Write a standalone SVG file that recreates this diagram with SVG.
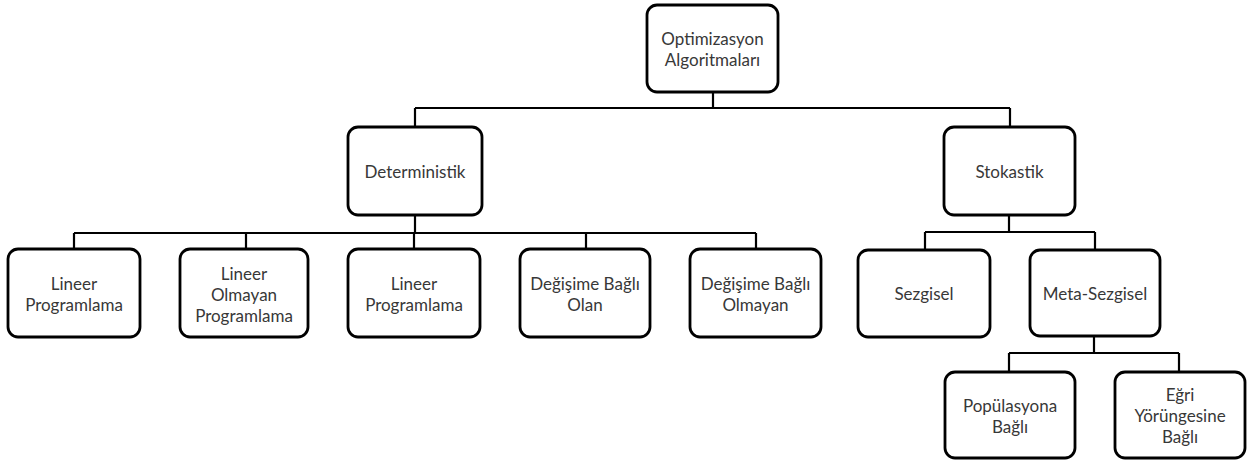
<svg xmlns="http://www.w3.org/2000/svg" width="1257" height="461" viewBox="0 0 1257 461">
<style>
.box{fill:#fff;stroke:#000;stroke-width:2.8}
.ln{fill:none;stroke:#000;stroke-width:2.2}
text{font-family:Lato,"Open Sans","Liberation Sans",sans-serif;font-size:17px;fill:#383838;text-anchor:middle;dominant-baseline:central}
</style>
<rect width="1257" height="461" fill="#fff"/>
<g id="connectors">
<path class="ln" d="M713 92V108M415 108H1010M415 108V127M1010 108V127"/>
<path class="ln" d="M415 215V233M74 233H756M74 233V249M246 233V249M414 233V249M586 233V249M756 233V249"/>
<path class="ln" d="M1009 215V232M925 232H1095M925 232V250M1095 232V250"/>
<path class="ln" d="M1094 336V353M1009 353H1179M1009 353V372M1179 353V372"/>
</g>
<g id="n-root"><rect class="box" x="647" y="5" width="131" height="87" rx="10"/><text x="712.5" y="38">Optimizasyon</text><text x="712.5" y="59">Algoritmaları</text></g>
<g id="n-det"><rect class="box" x="348" y="127" width="134" height="88" rx="10"/><text x="415" y="171">Deterministik</text></g>
<g id="n-sto"><rect class="box" x="944" y="127" width="131" height="88" rx="10"/><text x="1009.5" y="171">Stokastik</text></g>
<g id="n-lp1"><rect class="box" x="8" y="249" width="132" height="88" rx="10"/><text x="74" y="283">Lineer</text><text x="74" y="304">Programlama</text></g>
<g id="n-nlp"><rect class="box" x="180" y="249" width="128" height="88" rx="10"/><text x="244" y="273">Lineer</text><text x="244" y="294">Olmayan</text><text x="244" y="315">Programlama</text></g>
<g id="n-lp2"><rect class="box" x="348" y="249" width="132" height="88" rx="10"/><text x="414" y="283">Lineer</text><text x="414" y="304">Programlama</text></g>
<g id="n-dbo"><rect class="box" x="520" y="249" width="130" height="88" rx="10"/><text x="585" y="283">Değişime Bağlı</text><text x="585" y="304">Olan</text></g>
<g id="n-dbom"><rect class="box" x="690" y="249" width="131" height="88" rx="10"/><text x="755.5" y="283">Değişime Bağlı</text><text x="755.5" y="304">Olmayan</text></g>
<g id="n-sez"><rect class="box" x="858" y="250" width="132" height="87" rx="10"/><text x="924" y="293">Sezgisel</text></g>
<g id="n-meta"><rect class="box" x="1030" y="250" width="130" height="86" rx="10"/><text x="1095" y="293">Meta-Sezgisel</text></g>
<g id="n-pop"><rect class="box" x="945" y="372" width="130" height="86" rx="10"/><text x="1010" y="405">Popülasyona</text><text x="1010" y="426">Bağlı</text></g>
<g id="n-egri"><rect class="box" x="1115" y="372" width="130" height="86" rx="10"/><text x="1180" y="394">Eğri</text><text x="1180" y="415">Yörüngesine</text><text x="1180" y="436">Bağlı</text></g>
</svg>
